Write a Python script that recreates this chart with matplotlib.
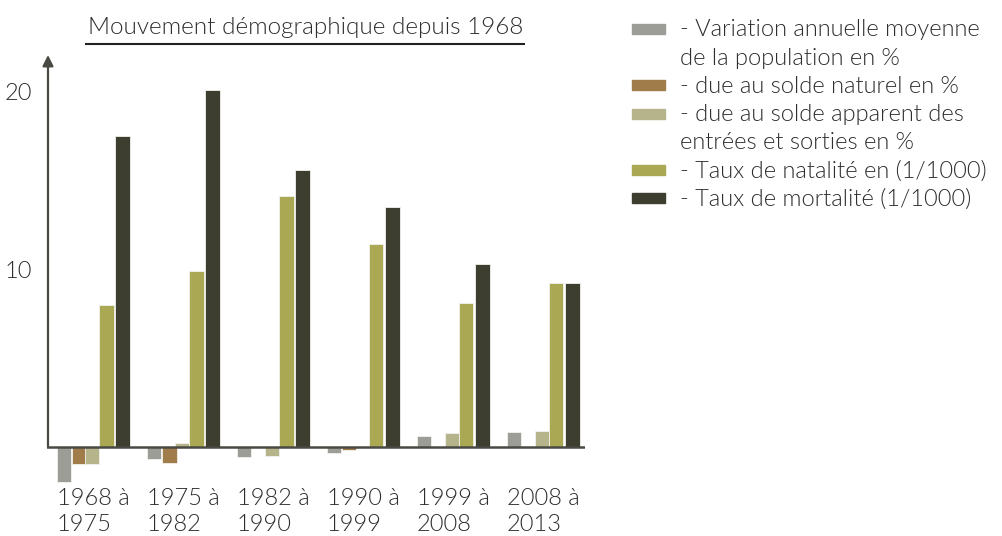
import matplotlib
matplotlib.use("Agg")
import matplotlib.pyplot as plt
from matplotlib.patches import Rectangle
import numpy as np

# periods shown on the x axis
periodes = ["1968 à\n1975", "1975 à\n1982", "1982 à\n1990",
            "1990 à\n1999", "1999 à\n2008", "2008 à\n2013"]

# values
variation = [-2.0, -0.7, -0.6, -0.35, 0.6, 0.85]     # %
solde_naturel = [-1.0, -0.9, 0.0, -0.2, 0.0, 0.0]    # %
solde_apparent = [-1.0, 0.2, -0.5, 0.0, 0.8, 0.9]    # %
natalite = [8.0, 9.9, 14.1, 11.4, 8.1, 9.2]          # 1/1000
mortalite = [17.5, 20.1, 15.6, 13.5, 10.3, 9.25]     # 1/1000

legende = [
    ["- Variation annuelle moyenne", "de la population en %"],
    ["- due au solde naturel en %"],
    ["- due au solde apparent des", "entrées et sorties en %"],
    ["- Taux de natalité en (1/1000)"],
    ["- Taux de mortalité (1/1000)"],
]
couleurs = ["#9d9d98", "#a07c4b", "#b5b48a", "#aba853", "#3d3d30"]
titre = "Mouvement démographique depuis 1968"

plt.rcParams["font.family"] = ["Lato", "DejaVu Sans"]
plt.rcParams["font.weight"] = 300
TXT = "#2e2e2e"
W, H = 1003, 536

fig = plt.figure(figsize=(W / 100, H / 100), dpi=100)
ax = fig.add_axes([47 / W, 1 - 484 / H, 538 / W, (484 - 55) / H])

x = np.arange(len(periodes))
w = 0.161
series = [variation, solde_naturel, solde_apparent, natalite, mortalite]
offsets = [-0.472, -0.30, -0.161, 0.0, 0.178]
for vals, off, c in zip(series, offsets, couleurs):
    ax.bar(x + off, vals, width=w, align="edge", color=c,
           edgecolor="#f2f2ee", linewidth=0.6, zorder=2)

ax.set_xlim(-0.578, 5.4)
ax.set_ylim(-2.10, 22.07)

for s in ax.spines.values():
    s.set_visible(False)

ax.axhline(0, color="#4a4a44", lw=1.8, zorder=3)
ax.annotate("", xy=(-0.567, 22.07), xytext=(-0.567, 0),
            arrowprops=dict(arrowstyle="-|>", color="#4a4a44", lw=1.6,
                            mutation_scale=16, shrinkA=0, shrinkB=0),
            zorder=3)

ax.set_yticks([10, 20])
ax.set_yticklabels(["10", "20"], fontsize=17, color=TXT, fontweight=300)
ax.tick_params(axis="y", length=0, pad=11)

ax.set_xticks(x + offsets[0])
ax.set_xticklabels(periodes, fontsize=17, color=TXT, ha="left",
                   linespacing=1.3, fontweight=300)
ax.tick_params(axis="x", length=0, pad=3)

# title with underline
fig.text(88 / W, 1 - 27 / H, titre, fontsize=17.5, color=TXT,
         ha="left", va="center", fontweight=300)
fig.add_artist(plt.Line2D([86 / W, 524 / W], [1 - 44 / H, 1 - 44 / H],
                          color="#222222", lw=1.5))

# legend drawn by hand so the colour box sits on the first line
y_line = 30
for lines, c in zip(legende, couleurs):
    fig.add_artist(Rectangle((632 / W, 1 - (y_line + 4) / H), 33 / W, 10 / H,
                             color=c, transform=fig.transFigure))
    for ln in lines:
        fig.text(680 / W, 1 - y_line / H, ln, fontsize=17, color=TXT,
                 ha="left", va="center", fontweight=300)
        y_line += 28.2

fig.savefig("out.png", dpi=100, facecolor="white")
